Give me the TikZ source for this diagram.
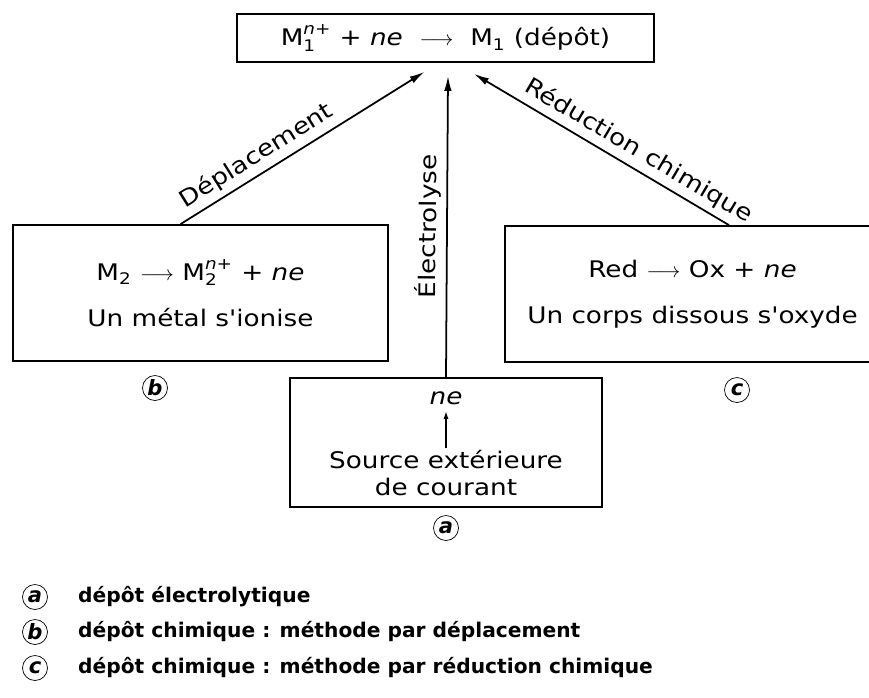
\documentclass[tikz,border=0pt]{standalone}
\usepackage{fontspec}
\usepackage{amsmath}
\setmainfont{DejaVu Sans}
\newfontfamily\widesans[FakeStretch=1.15]{DejaVu Sans}
\usetikzlibrary{arrows.meta,calc,positioning}

\tikzset{
  box/.style={draw, line width=1pt, rectangle, align=center, inner sep=0pt},
  flow/.style={line width=1pt, -{Latex[length=3mm,width=1.5mm]}},
  lbl/.style={sloped, above, inner sep=3pt},
  tag/.style={draw, circle, inner sep=0pt, minimum size=0.5cm, font=\fontsize{12}{14}\selectfont\bfseries\itshape},
  leg/.style={font=\fontsize{11.5}{14}\selectfont\bfseries, inner sep=0pt},
}
\newcommand{\ionM}[1]{$\text{M}_{\text{#1}}^{\textit{n}\text{+}}$}

\begin{document}
\begin{tikzpicture}[x=0.02cm, y=-0.02cm, font=\widesans\fontsize{13}{15}\selectfont]
	\useasboundingbox (0,0) rectangle (869,697);

	% boxes
	\node[box, minimum width=8.34cm, minimum height=0.96cm] (top) at (445.5,38) {\ionM{1} + \textit{ne} \ $\longrightarrow$ \ $\text{M}_{\text{1}}$ (dépôt)};
	\node[box, minimum width=7.5cm, minimum height=2.72cm] (dep) at (200.5,293) {$\text{M}_{\text{2}}$ $\longrightarrow$ \ionM{2} + \textit{ne}\\[0.4cm] Un métal s'ionise};
	\node[box, minimum width=7.5cm, minimum height=2.72cm] (red) at (692.5,294) {Red $\longrightarrow$ Ox + \textit{ne}\\[0.4cm] Un corps dissous s'oxyde};
	\node[box, minimum width=6.24cm, minimum height=2.58cm] (elec) at (446,442.5) {};
	\node (ne) at (446,398) {\textit{ne}};
	\node[align=center, inner sep=1pt] (src) at (446,473) {Source extérieure\\de courant};
	\draw[line width=1pt, -{Latex[length=1.6mm,width=1mm]}] (src) -- (ne);

	% the three ways
	\draw[flow] ($(dep.north)+(-20,0)$) -- node[lbl, pos=0.35] {Déplacement} ($(top.south)+(-21,9)$);
	\draw[flow] (elec.north) -- node[lbl, pos=0.5] {Électrolyse} ($(top.south)+(2.5,13)$);
	\draw[flow] ($(red.north)+(36.5,0)$) -- node[lbl, pos=0.39] {Réduction chimique} ($(top.south)+(28.5,11)$);

	\node[tag] (tb) at (155,388) {b};
	\node[tag] (tc) at (737,390) {c};
	\node[tag] (ta) at (446,528) {a};

	% legend
	\node[tag] (la) at (35,597) {a};
	\node[leg, right=0.6cm of la] (lta) {dépôt électrolytique};
	\node[tag] (lb) at (35,632) {b};
	\node[leg, right=0.6cm of lb] (ltb) {dépôt chimique : méthode par déplacement};
	\node[tag] (lc) at (35,668) {c};
	\node[leg, right=0.6cm of lc] (ltc) {dépôt chimique : méthode par réduction chimique};
\end{tikzpicture}
\end{document}
